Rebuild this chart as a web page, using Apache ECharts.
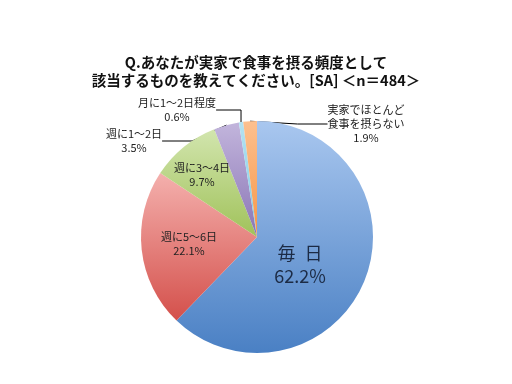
<!DOCTYPE html>
<html>
<head>
<meta charset="utf-8">
<script src="https://cdn.jsdelivr.net/npm/echarts@6/dist/echarts.min.js"></script>
<style>html,body{margin:0;padding:0;background:#fff;}#c{width:512px;height:384px;}</style>
</head>
<body>
<div id="c"></div>
<script>
var titleLines = ['Q.あなたが実家で食事を摂る頻度として', '該当するものを教えてください。[SA] ＜n＝484＞'];
var categories = ['毎\u2002日', '週に5～6日', '週に3～4日', '週に1～2日', '月に1～2日程度', '実家でほとんど\n食事を摂らない'];
var values = [62.2, 22.1, 9.7, 3.5, 0.6, 1.9];
var outside = [false, false, false, true, true, true];

var colorsTop = ['#a9c7ef', '#f4b0ad', '#d2e5ae', '#c2b5dc', '#b4e2f2', '#fcc08f'];
var colorsBottom = ['#4a80c4', '#d4504b', '#a0c25a', '#8a75b5', '#7fcbe3', '#f79646'];
var labelPos = [[300, 265], [189, 244], [202, 175], [134, 141], [177, 110], [366, 124]];

var chart = echarts.init(document.getElementById('c'));
var data = values.map(function (v, i) {
  var big = i === 0;
  return {
    name: categories[i],
    value: v,
    itemStyle: {
      color: new echarts.graphic.LinearGradient(0, 0, 0, 1, [
        {offset: 0, color: colorsTop[i]},
        {offset: 1, color: colorsBottom[i]}
      ])
    },
    label: {
      show: true,
      position: outside[i] ? 'outside' : 'inside',
      formatter: '{b}\n{c}%',
      fontSize: big ? 18 : 11,
      lineHeight: big ? 23 : 14,
      color: big ? '#1c2b45' : '#222',
      align: 'center'
    },
    labelLine: {
      show: outside[i],
      lineStyle: {color: '#000', width: 1}
    }
  };
});

chart.setOption({
  backgroundColor: '#fff',
  animation: false,
  title: {
    text: titleLines.join('\n'),
    left: 'center',
    top: 48,
    textStyle: {
      fontFamily: 'Noto Sans CJK JP',
      fontSize: 14.5,
      fontWeight: 'bold',
      lineHeight: 18,
      color: '#111'
    }
  },
  textStyle: {fontFamily: 'Noto Sans CJK JP'},
  series: [{
    type: 'pie',
    center: [257, 237],
    radius: 116,
    startAngle: 90,
    clockwise: true,
    avoidLabelOverlap: false,
    data: data,
    labelLayout: function (params) {
      var p = labelPos[params.dataIndex];
      return {x: p[0], y: p[1], align: 'center', verticalAlign: 'middle'};
    }
  }]
});
</script>
</body>
</html>
